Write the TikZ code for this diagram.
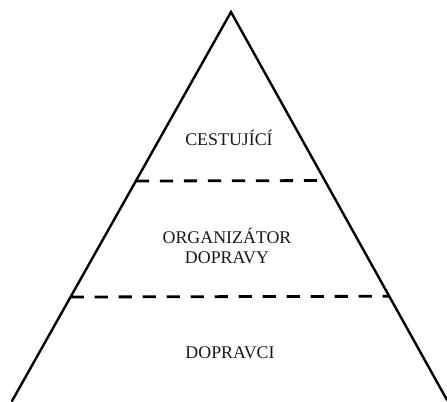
\documentclass[tikz,border=0pt]{standalone}
\usepackage{fontspec}
\setmainfont{Liberation Serif}
\usetikzlibrary{calc}
\begin{document}
\begin{tikzpicture}[x=0.75pt,y=-0.75pt,
  side/.style={line width=1.8pt,line cap=round,line join=miter},
  level/.style={line width=2.1pt,dash pattern=on 10pt off 8pt},
  lbl/.style={font=\fontsize{13.4pt}{15pt}\selectfont,align=center,inner sep=0pt,text=black!90}]
\useasboundingbox[fill=white] (0,0) rectangle (447,401);
\coordinate (apex) at (231,12);
\coordinate (bl) at (12,401);
\coordinate (br) at (447,400);
\draw[side] (bl) -- (apex) -- (br);
\coordinate (l1) at ($(apex)!0.4344!(bl)$);
\coordinate (r1) at ($(apex)!0.4344!(br)$);
\coordinate (l2) at ($(apex)!0.7326!(bl)$);
\coordinate (r2) at ($(apex)!0.7326!(br)$);
\draw[level] (l1) -- (r1);
\draw[level] (l2) -- (r2);
\node[lbl] (top) at (229,137.5) {CESTUJÍCÍ};
\node[lbl] (mid) at (227,246) {ORGANIZÁTOR\\DOPRAVY};
\node[lbl] (bot) at (230,353) {DOPRAVCI};
\end{tikzpicture}
\end{document}
